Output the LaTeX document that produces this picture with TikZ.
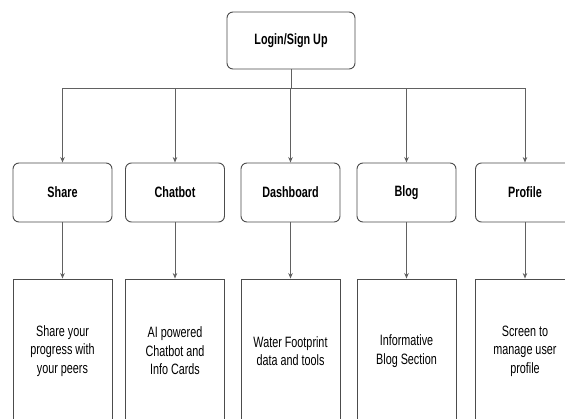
\documentclass[tikz,border=0pt]{standalone}
\usepackage{fontspec}
\setmainfont{Liberation Sans}[FakeStretch=0.72]
\usetikzlibrary{arrows.meta}
\begin{document}
\begin{tikzpicture}[x=1pt,y=-1pt,
  lbl/.style={draw=black!70, line width=0.9pt, rounded corners=6pt, minimum width=99pt, minimum height=59pt, inner sep=0pt, font=\fontsize{15}{18.5}\selectfont\bfseries},
  desc/.style={draw=black!70, line width=0.9pt, minimum width=99pt, minimum height=144pt, inner sep=0pt, align=center, font=\fontsize{15}{18.5}\selectfont},
  conn/.style={draw=black!62, line width=0.9pt},
  arr/.style={conn, -{Stealth[length=5.5pt,width=4.5pt]}}]
\useasboundingbox (0,0) rectangle (565,418);
\clip (0,0) rectangle (565,418);
\fill[white] (0,0) rectangle (565,418);
\node[lbl, minimum width=128pt, minimum height=57pt] (top) at (291,40.5) {Login/Sign Up};
\node[lbl] (m1) at (62.5,192.5) {Share};
\node[lbl] (m2) at (175,192.5) {Chatbot};
\node[lbl] (m3) at (290.5,192.5) {Dashboard};
\node[lbl] (m4) at (406.5,192.5) {Blog};
\node[lbl] (m5) at (525,192.5) {Profile};
\node[desc] (b1) at (62.5,351) {Share your\\progress with\\your peers};
\node[desc] (b2) at (175,351) {AI powered\\Chatbot and\\Info Cards};
\node[desc] (b3) at (290.5,351) {Water Footprint\\data and tools};
\node[desc] (b4) at (406.5,351) {Informative\\Blog Section};
\node[desc] (b5) at (525,351) {Screen to\\manage user\\profile};
\foreach \i in {1,...,5}{
  \draw[arr] (top.south) -- ++(0,19) -| (m\i.north);
  \draw[arr] (m\i.south) -- (b\i.north);
}
\end{tikzpicture}
\end{document}
